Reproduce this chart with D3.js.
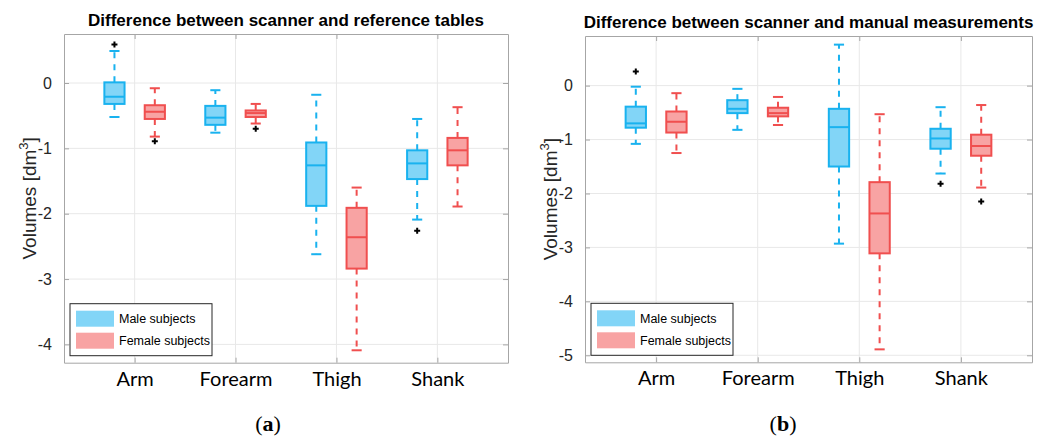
<!DOCTYPE html>
<html>
<head>
<meta charset="utf-8">
<script src="https://cdn.jsdelivr.net/npm/d3@7"></script>
<style>
  html, body { margin: 0; padding: 0; background: #fff; }
  svg { display: block; }
</style>
</head>
<body>
<svg id="chart" width="1062" height="437"></svg>
<script>
// Limb segments along the x axis
const categories = ["Arm", "Forearm", "Thigh", "Shank"];
const seriesNames = ["Male subjects", "Female subjects"];

// (a) scanner vs reference tables — male box statistics
const refMaleUpper  = [0.49, -0.11, -0.18, -0.55];
const refMaleQ3     = [0.01, -0.35, -0.91, -1.03];
const refMaleMedian = [-0.21, -0.53, -1.26, -1.23];
const refMaleQ1     = [-0.32, -0.64, -1.88, -1.47];
const refMaleLower  = [-0.52, -0.76, -2.62, -2.09];
const refMaleOutliers = [[0, 0.59], [3, -2.26]];

// (a) female box statistics
const refFemaleUpper  = [-0.08, -0.32, -1.60, -0.37];
const refFemaleQ3     = [-0.34, -0.42, -1.91, -0.84];
const refFemaleMedian = [-0.44, -0.46, -2.36, -1.03];
const refFemaleQ1     = [-0.55, -0.52, -2.84, -1.26];
const refFemaleLower  = [-0.82, -0.62, -4.09, -1.89];
const refFemaleOutliers = [[0, -0.89], [1, -0.70]];

// (b) scanner vs manual measurements — male box statistics
const manMaleUpper  = [-0.02, -0.06, 0.76, -0.40];
const manMaleQ3     = [-0.39, -0.27, -0.43, -0.80];
const manMaleMedian = [-0.70, -0.43, -0.77, -0.98];
const manMaleQ1     = [-0.78, -0.51, -1.50, -1.17];
const manMaleLower  = [-1.08, -0.82, -2.93, -1.63];
const manMaleOutliers = [[0, 0.26], [3, -1.82]];

// (b) female box statistics
const manFemaleUpper  = [-0.14, -0.21, -0.53, -0.36];
const manFemaleQ3     = [-0.48, -0.41, -1.79, -0.91];
const manFemaleMedian = [-0.67, -0.51, -2.37, -1.12];
const manFemaleQ1     = [-0.87, -0.57, -3.11, -1.30];
const manFemaleLower  = [-1.25, -0.73, -4.89, -1.89];
const manFemaleOutliers = [[3, -2.15]];

// Axis ticks
const refTicks = [-4, -3, -2, -1, 0];
const manTicks = [-5, -4, -3, -2, -1, 0];

const colors = {
  male:   { fill: "#82d5f7", stroke: "#19b2ef" },
  female: { fill: "#f8a3a3", stroke: "#f04f4f" }
};

function boxes(upper, q3, med, q1, lower) {
  return categories.map((c, i) => ({
    i, upper: upper[i], q3: q3[i], med: med[i], q1: q1[i], lower: lower[i]
  }));
}

const panels = [
  {
    title: "Difference between scanner and reference tables",
    caption: "a", captionX: 268,
    left: 64, right: 508, top: 34, bottom: 362.7,
    yDomain: [-4.28, 0.75], ticks: refTicks,
    male: boxes(refMaleUpper, refMaleQ3, refMaleMedian, refMaleQ1, refMaleLower),
    female: boxes(refFemaleUpper, refFemaleQ3, refFemaleMedian, refFemaleQ1, refFemaleLower),
    maleOut: refMaleOutliers, femaleOut: refFemaleOutliers
  },
  {
    title: "Difference between scanner and manual measurements",
    caption: "b", captionX: 783,
    left: 585, right: 1032, top: 36, bottom: 362.3,
    yDomain: [-5.13, 0.92], ticks: manTicks,
    male: boxes(manMaleUpper, manMaleQ3, manMaleMedian, manMaleQ1, manMaleLower),
    female: boxes(manFemaleUpper, manFemaleQ3, manFemaleMedian, manFemaleQ1, manFemaleLower),
    maleOut: manMaleOutliers, femaleOut: manFemaleOutliers
  }
];

const svg = d3.select("#chart");

panels.forEach(p => drawPanel(p));

function drawPanel(p) {
  const x = d3.scaleLinear().domain([0.3, 4.7]).range([p.left, p.right]);
  const y = d3.scaleLinear().domain(p.yDomain).range([p.bottom, p.top]);
  const g = svg.append("g");
  const catPos = categories.map((c, i) => i + 1);

  // grid
  g.append("g").selectAll("line.gx").data(catPos).join("line")
    .attr("x1", d => x(d)).attr("x2", d => x(d))
    .attr("y1", p.top).attr("y2", p.bottom)
    .attr("stroke", "#e8e8e8").attr("stroke-width", 1);
  g.append("g").selectAll("line.gy").data(p.ticks).join("line")
    .attr("x1", p.left).attr("x2", p.right)
    .attr("y1", d => y(d)).attr("y2", d => y(d))
    .attr("stroke", "#e8e8e8").attr("stroke-width", 1);

  // axes (box with inward ticks on all four sides)
  const axisColor = "#a6a6a6";
  const yl = g.append("g").attr("transform", `translate(${p.left},0)`)
    .call(d3.axisLeft(y).tickValues(p.ticks).tickSizeInner(-5).tickSizeOuter(0).tickPadding(12)
      .tickFormat(d => d3.format("d")(d).replace("−", "-")));
  const yr = g.append("g").attr("transform", `translate(${p.right},0)`)
    .call(d3.axisRight(y).tickValues(p.ticks).tickSizeInner(-5).tickSizeOuter(0).tickFormat(""));
  const xb = g.append("g").attr("transform", `translate(0,${p.bottom})`)
    .call(d3.axisBottom(x).tickValues(catPos).tickSizeInner(-5).tickSizeOuter(0).tickPadding(9)
      .tickFormat(d => categories[d - 1]));
  const xt = g.append("g").attr("transform", `translate(0,${p.top})`)
    .call(d3.axisTop(x).tickValues(catPos).tickSizeInner(-5).tickSizeOuter(0).tickFormat(""));
  [yl, yr, xb, xt].forEach(a => {
    a.select(".domain").attr("stroke", axisColor);
    a.selectAll(".tick line").attr("stroke", axisColor);
  });
  yl.selectAll(".tick text").attr("font-family", "Liberation Sans, Arial, sans-serif")
    .attr("font-size", 16).attr("fill", "#262626");
  xb.selectAll(".tick text").attr("font-family", "Lato, sans-serif")
    .attr("font-size", 20).attr("fill", "#000").attr("dy", "0.71em");

  // series
  const series = [
    { data: p.male, off: -0.2, c: colors.male, out: p.maleOut },
    { data: p.female, off: 0.2, c: colors.female, out: p.femaleOut }
  ];
  const hw = 0.1, cw = 0.05;
  series.forEach(s => {
    const sg = g.append("g");
    const b = sg.selectAll("g").data(s.data).join("g");
    const cx = d => x(d.i + 1 + s.off);
    // whiskers
    b.append("line").attr("x1", cx).attr("x2", cx)
      .attr("y1", d => y(d.q3)).attr("y2", d => y(d.upper))
      .attr("stroke", s.c.stroke).attr("stroke-width", 2).attr("stroke-dasharray", "6,6");
    b.append("line").attr("x1", cx).attr("x2", cx)
      .attr("y1", d => y(d.q1)).attr("y2", d => y(d.lower))
      .attr("stroke", s.c.stroke).attr("stroke-width", 2).attr("stroke-dasharray", "6,6");
    // caps
    ["upper", "lower"].forEach(k => {
      b.append("line")
        .attr("x1", d => x(d.i + 1 + s.off - cw)).attr("x2", d => x(d.i + 1 + s.off + cw))
        .attr("y1", d => y(d[k])).attr("y2", d => y(d[k]))
        .attr("stroke", s.c.stroke).attr("stroke-width", 2);
    });
    // box
    b.append("rect")
      .attr("x", d => x(d.i + 1 + s.off - hw))
      .attr("width", d => x(d.i + 1 + s.off + hw) - x(d.i + 1 + s.off - hw))
      .attr("y", d => y(d.q3))
      .attr("height", d => y(d.q1) - y(d.q3))
      .attr("fill", s.c.fill).attr("stroke", s.c.stroke).attr("stroke-width", 2);
    // median
    b.append("line")
      .attr("x1", d => x(d.i + 1 + s.off - hw)).attr("x2", d => x(d.i + 1 + s.off + hw))
      .attr("y1", d => y(d.med)).attr("y2", d => y(d.med))
      .attr("stroke", s.c.stroke).attr("stroke-width", 2);
    // outliers
    sg.append("g").selectAll("path").data(s.out).join("path")
      .attr("d", d => {
        const px = x(d[0] + 1 + s.off), py = y(d[1]), r = 3;
        return `M${px - r},${py}H${px + r}M${px},${py - r}V${py + r}`;
      })
      .attr("stroke", "#000").attr("stroke-width", 2);
  });

  // title
  svg.append("text")
    .attr("x", (p.left + p.right) / 2).attr("y", p.top - 8)
    .attr("text-anchor", "middle")
    .attr("font-family", "Liberation Sans, Arial, sans-serif")
    .attr("font-weight", "bold").attr("font-size", 17)
    .text(p.title);

  // y label
  const lbl = svg.append("text")
    .attr("transform", `translate(${p.left - 28},${(p.top + p.bottom) / 2}) rotate(-90)`)
    .attr("text-anchor", "middle")
    .attr("font-family", "Liberation Sans, Arial, sans-serif")
    .attr("font-size", 19).attr("fill", "#262626");
  lbl.append("tspan").text("Volumes [dm");
  lbl.append("tspan").attr("dy", -8).attr("font-size", 13).text("3");
  lbl.append("tspan").attr("dy", 8).text("]");

  // legend
  const lg = svg.append("g").attr("transform", `translate(${p.left + 6},${p.bottom - 59})`);
  lg.append("rect").attr("width", 142).attr("height", 52)
    .attr("fill", "#fff").attr("stroke", "#262626").attr("stroke-width", 1);
  seriesNames.forEach((n, k) => {
    const c = k === 0 ? colors.male : colors.female;
    lg.append("rect").attr("x", 6).attr("y", 7 + k * 22).attr("width", 38).attr("height", 16)
      .attr("fill", c.fill);
    lg.append("text").attr("x", 49).attr("y", 15 + k * 22).attr("dy", "0.35em")
      .attr("font-family", "Liberation Sans, Arial, sans-serif").attr("font-size", 12.5)
      .attr("fill", "#000").text(n);
  });

  // caption
  const cap = svg.append("text")
    .attr("x", p.captionX).attr("y", 431).attr("text-anchor", "middle")
    .attr("font-family", "Liberation Serif, serif").attr("font-size", 22);
  cap.append("tspan").text("(");
  cap.append("tspan").attr("font-weight", "bold").text(p.caption);
  cap.append("tspan").text(")");
}
</script>
</body>
</html>
